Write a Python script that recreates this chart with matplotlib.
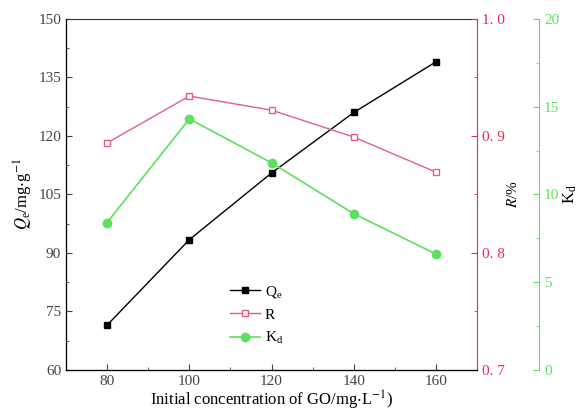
import matplotlib
matplotlib.use("Agg")
import matplotlib.pyplot as plt
from matplotlib.ticker import MultipleLocator, FuncFormatter

conc = [80, 100, 120, 140, 160]
qe = [71.5, 93.4, 110.5, 126.0, 139.0]
r_vals = [0.894, 0.934, 0.922, 0.899, 0.869]
kd = [8.4, 14.3, 11.8, 8.9, 6.6]

red = "#e8294f"
green = "#5ee05e"

plt.rcParams['font.family'] = ['Liberation Serif', 'DejaVu Serif']
plt.rcParams['mathtext.fontset'] = 'stix'

fig = plt.figure(figsize=(5.84, 4.19), dpi=100)
ax = fig.add_axes([0.113, 0.117, 0.704, 0.838])
ax2 = ax.twinx()
ax3 = ax.twinx()
ax3.spines['right'].set_position(('axes', 1.151))

l1, = ax.plot(conc, qe, '-s', color='black', ms=5, lw=1, label=r'Q$_\mathregular{e}$')
l2, = ax2.plot(conc, r_vals, '-s', color='#e06080', mfc='white', mec='#e06080', ms=5, lw=1, label='R')
l3, = ax3.plot(conc, kd, '-o', color=green, ms=6, lw=1.2, label=r'K$_\mathregular{d}$')

ax.set_xlim(70, 170)
ax.set_ylim(60, 150)
ax2.set_ylim(0.7, 1.0)
ax3.set_ylim(0, 20)

ax.xaxis.set_major_locator(MultipleLocator(20))
ax.xaxis.set_minor_locator(MultipleLocator(10))
ax.yaxis.set_major_locator(MultipleLocator(15))
ax.yaxis.set_minor_locator(MultipleLocator(7.5))
ax2.yaxis.set_major_locator(MultipleLocator(0.1))
ax2.yaxis.set_minor_locator(MultipleLocator(0.05))
ax3.yaxis.set_major_locator(MultipleLocator(5))
ax3.yaxis.set_minor_locator(MultipleLocator(2.5))
ax2.yaxis.set_major_formatter(FuncFormatter(lambda v, p: ("%.1f" % v).replace('.', '. ')))

ax.tick_params(which='both', direction='in', labelsize=11, colors='#444444')
ax.tick_params(which='major', length=4)
ax.tick_params(which='minor', length=2)
for s in ('left', 'bottom', 'top'):
    ax.spines[s].set_color('#333333')
ax2.spines['right'].set_color(red)
ax2.tick_params(which='both', direction='in', colors=red, labelsize=11)
ax2.tick_params(which='major', length=4)
ax2.tick_params(which='minor', length=2)
ax3.spines['right'].set_color(green)
ax3.tick_params(which='both', direction='in', colors=green, labelsize=11)
ax3.tick_params(which='major', length=4)
ax3.tick_params(which='minor', length=2)
ax.spines['right'].set_visible(False)
ax2.spines['top'].set_visible(False)
ax3.spines['top'].set_visible(False)

ax.set_xlabel(r'Initial concentration of GO/mg$\cdot$L$^{-1}$)', fontsize=12, labelpad=1)
ax.set_ylabel(r'$Q_\mathregular{e}$/mg$\cdot$g$^{-1}$', fontsize=12, labelpad=2)
ax2.set_ylabel(r'$R$/%', fontsize=11, labelpad=1)
ax3.set_ylabel(r'K$_\mathregular{d}$', fontsize=12, labelpad=2)

ax.legend(handles=[l1, l2, l3], loc='upper left', bbox_to_anchor=(0.365, 0.285),
          frameon=False, fontsize=11, handlelength=2, handletextpad=0.3, labelspacing=0.55)

fig.savefig('out.png', dpi=100)
